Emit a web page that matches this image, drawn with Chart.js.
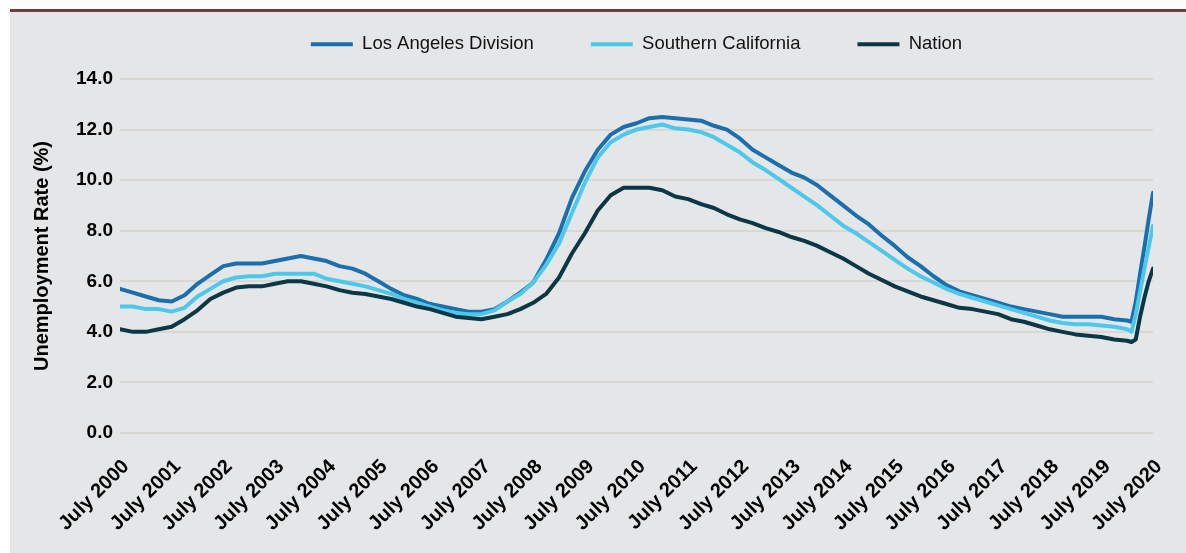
<!DOCTYPE html>
<html>
<head>
<meta charset="utf-8">
<title>Unemployment Rate</title>
<script src="https://cdn.jsdelivr.net/npm/chart.js@4.4.1/dist/chart.umd.min.js"></script>
<style>
  html, body { margin: 0; padding: 0; background: #fff; overflow: hidden; }
  .rule { position: absolute; left: 10px; top: 9px; width: 1176px; height: 3px; background: #703c40; }
  .panel { position: absolute; left: 10px; top: 12px; width: 1176px; height: 541px; background: #e5e6e8; }
  canvas { display: block; }
</style>
</head>
<body>
<div class="rule"></div>
<div class="panel"><canvas id="rateChart" width="1176" height="541"></canvas></div>

<script>
/**************************************************
 * DATA  (12-month averages, months counted from July 2000)
 **************************************************/
const yearLabels = [
  "July 2000", "July 2001", "July 2002", "July 2003", "July 2004", "July 2005", "July 2006",
  "July 2007", "July 2008", "July 2009", "July 2010", "July 2011", "July 2012", "July 2013",
  "July 2014", "July 2015", "July 2016", "July 2017", "July 2018", "July 2019", "July 2020"
];

const months = [
  0, 3, 6, 9, 12, 15, 18, 21, 24, 27, 30, 33, 36, 39, 42, 45, 48, 51, 54, 57,
  60, 63, 66, 69, 72, 75, 78, 81, 84, 87, 90, 93, 96, 99, 102, 105, 108, 111, 114, 117,
  120, 123, 126, 129, 132, 135, 138, 141, 144, 147, 150, 153, 156, 159, 162, 165, 168, 171, 174, 177,
  180, 183, 186, 189, 192, 195, 198, 201, 204, 207, 210, 213, 216, 219, 222, 225, 228, 231, 234, 235,
  236, 237, 238, 239, 240
];

const losAngeles = [
  5.7, 5.55, 5.4, 5.25, 5.2, 5.45, 5.9, 6.25, 6.6, 6.7, 6.7, 6.7, 6.8, 6.9, 7.0, 6.9, 6.8, 6.6, 6.5, 6.3,
  6.0, 5.7, 5.45, 5.3, 5.1, 5.0, 4.9, 4.8, 4.8, 4.9, 5.2, 5.55, 5.95, 6.85, 7.9, 9.3, 10.35, 11.2, 11.8, 12.1,
  12.25, 12.45, 12.5, 12.45, 12.4, 12.35, 12.15, 12.0, 11.65, 11.2, 10.9, 10.6, 10.3, 10.1, 9.8, 9.4, 9.0, 8.6, 8.25, 7.8,
  7.4, 6.95, 6.6, 6.2, 5.85, 5.6, 5.45, 5.3, 5.15, 5.0, 4.9, 4.8, 4.7, 4.6, 4.6, 4.6, 4.6, 4.5, 4.45, 4.4,
  5.2, 6.3, 7.35, 8.45, 9.5
];

const southernCalifornia = [
  5.0, 5.0, 4.9, 4.9, 4.8, 4.95, 5.4, 5.7, 6.0, 6.15, 6.2, 6.2, 6.3, 6.3, 6.3, 6.3, 6.1, 6.0, 5.9, 5.8,
  5.65, 5.5, 5.3, 5.15, 5.0, 4.85, 4.75, 4.7, 4.7, 4.85, 5.2, 5.5, 5.95, 6.65, 7.5, 8.7, 9.9, 10.9, 11.5, 11.8,
  12.0, 12.1, 12.2, 12.05, 12.0, 11.9, 11.7, 11.4, 11.1, 10.7, 10.4, 10.05, 9.7, 9.35, 9.0, 8.6, 8.2, 7.9, 7.55, 7.2,
  6.85, 6.5, 6.2, 5.95, 5.7, 5.5, 5.35, 5.2, 5.05, 4.9, 4.75, 4.6, 4.45, 4.35, 4.3, 4.3, 4.25, 4.2, 4.1, 4.0,
  4.7, 5.6, 6.5, 7.35, 8.2
];

const nation = [
  4.1, 4.0, 4.0, 4.1, 4.2, 4.5, 4.85, 5.3, 5.55, 5.75, 5.8, 5.8, 5.9, 6.0, 6.0, 5.9, 5.8, 5.65, 5.55, 5.5,
  5.4, 5.3, 5.15, 5.0, 4.9, 4.75, 4.6, 4.55, 4.5, 4.6, 4.7, 4.9, 5.15, 5.5, 6.15, 7.1, 7.9, 8.8, 9.4, 9.7,
  9.7, 9.7, 9.6, 9.35, 9.25, 9.05, 8.9, 8.65, 8.45, 8.3, 8.1, 7.95, 7.75, 7.6, 7.4, 7.15, 6.9, 6.6, 6.3, 6.05,
  5.8, 5.6, 5.4, 5.25, 5.1, 4.95, 4.9, 4.8, 4.7, 4.5, 4.4, 4.25, 4.1, 4.0, 3.9, 3.85, 3.8, 3.7, 3.65, 3.6,
  3.7, 4.6, 5.35, 6.0, 6.5
];

/**************************************************
 * CHART
 **************************************************/
const FONT = "'Liberation Sans', Arial, sans-serif";

function toPoints(values) {
  return months.map((m, i) => ({ x: m, y: values[i] }));
}

function lineSet(label, values, color, order) {
  return {
    label: label,
    data: toPoints(values),
    borderColor: color,
    backgroundColor: color,
    borderWidth: 4,
    borderCapStyle: "round",
    borderJoinStyle: "round",
    pointRadius: 0,
    tension: 0,
    order: order
  };
}

// Chart.js uses the legend padding both between items and above them;
// keep the wide item spacing but lift the row back up.
const legendLift = {
  id: "legendLift",
  afterLayout(chart) {
    chart.legend.top -= 34;
  }
};

let rateChart;

function drawRateChart() {
  const ctx = document.getElementById("rateChart").getContext("2d");

  rateChart = new Chart(ctx, {
    type: "line",
    data: {
      datasets: [
        lineSet("Los Angeles Division", losAngeles, "#1b6fad", 2),
        lineSet("Southern California", southernCalifornia, "#4ec8ea", 1),
        lineSet("Nation", nation, "#0b3746", 0)
      ]
    },
    plugins: [legendLift],
    options: {
      responsive: false,
      animation: false,
      layout: { padding: { left: 16, right: 33, top: 0, bottom: 0 } },
      plugins: {
        legend: {
          position: "top",
          fullSize: false,
          maxHeight: 67,
          labels: {
            usePointStyle: true,
            pointStyle: "line",
            pointStyleWidth: 42,
            padding: 57,
            color: "#111",
            font: { family: FONT, size: 18.5 },
            sort: (a, b) => a.datasetIndex - b.datasetIndex
          }
        },
        tooltip: { enabled: false }
      },
      scales: {
        x: {
          type: "linear",
          min: 0,
          max: 240,
          grid: { display: false, drawTicks: true, tickLength: 19 },
          border: { display: false },
          ticks: {
            stepSize: 12,
            autoSkip: false,
            minRotation: 45,
            maxRotation: 45,
            padding: 3,
            labelOffset: 6,
            color: "#000",
            font: { family: FONT, size: 20, weight: "bold" },
            callback: v => yearLabels[v / 12]
          },
          afterFit(scale) { scale.height = 120; }
        },
        y: {
          min: 0,
          max: 14,
          grid: { color: "#d8d7d4", lineWidth: 2, drawTicks: false },
          border: { display: false },
          ticks: {
            stepSize: 2,
            padding: 7,
            color: "#000",
            font: { family: FONT, size: 19, weight: "bold" },
            callback: v => v.toFixed(1)
          },
          title: {
            display: true,
            text: "Unemployment Rate (%)",
            color: "#000",
            font: { family: FONT, size: 20, weight: "bold" },
            padding: { top: 4, bottom: 4 }
          },
          afterFit(scale) { scale.width = 94; }
        }
      }
    }
  });
}

drawRateChart();
</script>
</body>
</html>
